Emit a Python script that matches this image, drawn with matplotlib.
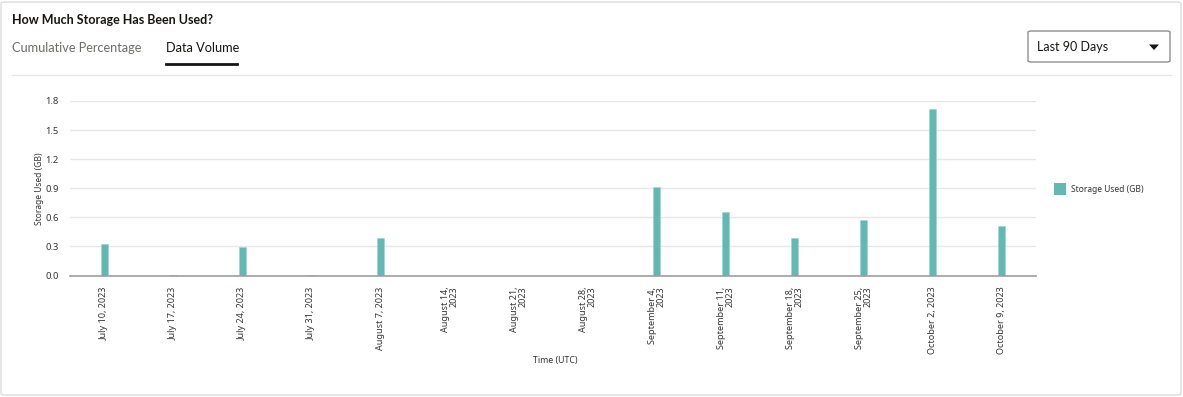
import matplotlib
matplotlib.use("Agg")
import matplotlib.pyplot as plt
from matplotlib.patches import FancyBboxPatch, Rectangle, Polygon
from matplotlib.lines import Line2D

plt.rcParams['font.family'] = ['Noto Sans', 'DejaVu Sans']
HEAD = ['Lato', 'DejaVu Sans']

categories = ["July 10, 2023", "July 17, 2023", "July 24, 2023", "July 31, 2023",
              "August 7, 2023", "August 14,\n2023", "August 21,\n2023", "August 28,\n2023",
              "September 4,\n2023", "September 11,\n2023", "September 18,\n2023",
              "September 25,\n2023", "October 2, 2023", "October 9, 2023"]
storage_gb = [0.32, 0.008, 0.29, 0.006, 0.39, 0.0, 0.0, 0.0,
              0.91, 0.66, 0.39, 0.57, 1.72, 0.51]
yticks = [0.0, 0.3, 0.6, 0.9, 1.2, 1.5, 1.8]
series_name = "Storage Used (GB)"

W, H = 1183, 397
fig = plt.figure(figsize=(W / 100, H / 100), dpi=100)

def fx(x): return x / W
def fy(y): return 1 - y / H

# card border
fig.patches.append(FancyBboxPatch((fx(1), fy(395)), fx(1180), 393 / H,
                                  boxstyle="round,pad=0,rounding_size=0.004",
                                  transform=fig.transFigure, facecolor="white",
                                  edgecolor="#dcdcdc", linewidth=1, zorder=-5))

fig.text(fx(12), fy(20), "How Much Storage Has Been Used?", fontsize=9,
         fontweight="bold", color="#161513", va="center", ha="left", family=HEAD)
fig.text(fx(12), fy(48), "Cumulative Percentage", fontsize=9.2,
         color="#6f6c6a", va="center", ha="left", family=HEAD)
fig.text(fx(166), fy(48), "Data Volume", fontsize=9.2,
         color="#161513", va="center", ha="left", family=HEAD)
fig.add_artist(Line2D([fx(166), fx(237)], [fy(64), fy(64)], color="#161513",
                      linewidth=2, transform=fig.transFigure))
fig.add_artist(Line2D([fx(12), fx(1171)], [fy(74.5), fy(74.5)], color="#e6e6e6",
                      linewidth=1, transform=fig.transFigure))
# dropdown
fig.patches.append(FancyBboxPatch((fx(1028), fy(62)), fx(142), 31 / H,
                                  boxstyle="round,pad=0,rounding_size=0.003",
                                  transform=fig.transFigure, facecolor="white",
                                  edgecolor="#8f8f8f", linewidth=1, zorder=-4))
fig.text(fx(1037), fy(47), "Last 90 Days", fontsize=9, color="#161513",
         va="center", ha="left", family=HEAD)
fig.patches.append(Polygon([(fx(1149), fy(44.5)), (fx(1159), fy(44.5)), (fx(1154), fy(50))],
                           closed=True, transform=fig.transFigure,
                           facecolor="#161513", edgecolor="none"))

# chart
ax = fig.add_axes([fx(70), fy(275.5), fx(1036 - 70), (275.5 - 101) / H])
ax.set_zorder(2)
ax.patch.set_alpha(0)
x = list(range(len(categories)))
ax.bar(x, storage_gb, width=0.09, color="#62b8b3", edgecolor="#9fd6d2",
       linewidth=0.5, zorder=3, label=series_name)
ax.set_xlim(-0.5, len(categories) - 0.5)
ax.set_ylim(0, 1.8)
ax.set_yticks(yticks)
ax.set_yticklabels([f"{v:.1f}" for v in yticks])
ax.grid(axis="y", color="#e6e6e6", linewidth=1, zorder=0)
ax.set_axisbelow(True)
for s in ["top", "right", "left"]:
    ax.spines[s].set_visible(False)
ax.spines["bottom"].set_color("#9e9e9e")
ax.spines["bottom"].set_linewidth(1.2)
ax.spines["bottom"].set_zorder(4)
ax.tick_params(axis="y", length=0, labelsize=6.8, labelcolor="#333333", pad=8)
ax.tick_params(axis="x", length=0, labelsize=6.5, labelcolor="#333333", pad=8)
ax.set_xticks(x)
ax.set_xticklabels(categories, rotation=90, ha="center", va="top",
                   multialignment="right", linespacing=0.95)
ax.set_ylabel("Storage Used (GB)", fontsize=6.1, color="#333333")
ax.yaxis.set_label_coords(-0.027, 0.5)
fig.text(fx(555), fy(360), "Time (UTC)", fontsize=6.3, color="#333333",
         ha="center", va="center")

# legend
fig.patches.append(Rectangle((fx(1054), fy(195)), fx(12), 12 / H,
                             transform=fig.transFigure, facecolor="#62b8b3",
                             edgecolor="none"))
fig.text(fx(1071), fy(189), series_name, fontsize=6.1, color="#333333",
         ha="left", va="center")

fig.savefig("out.png", dpi=100, facecolor="white")
